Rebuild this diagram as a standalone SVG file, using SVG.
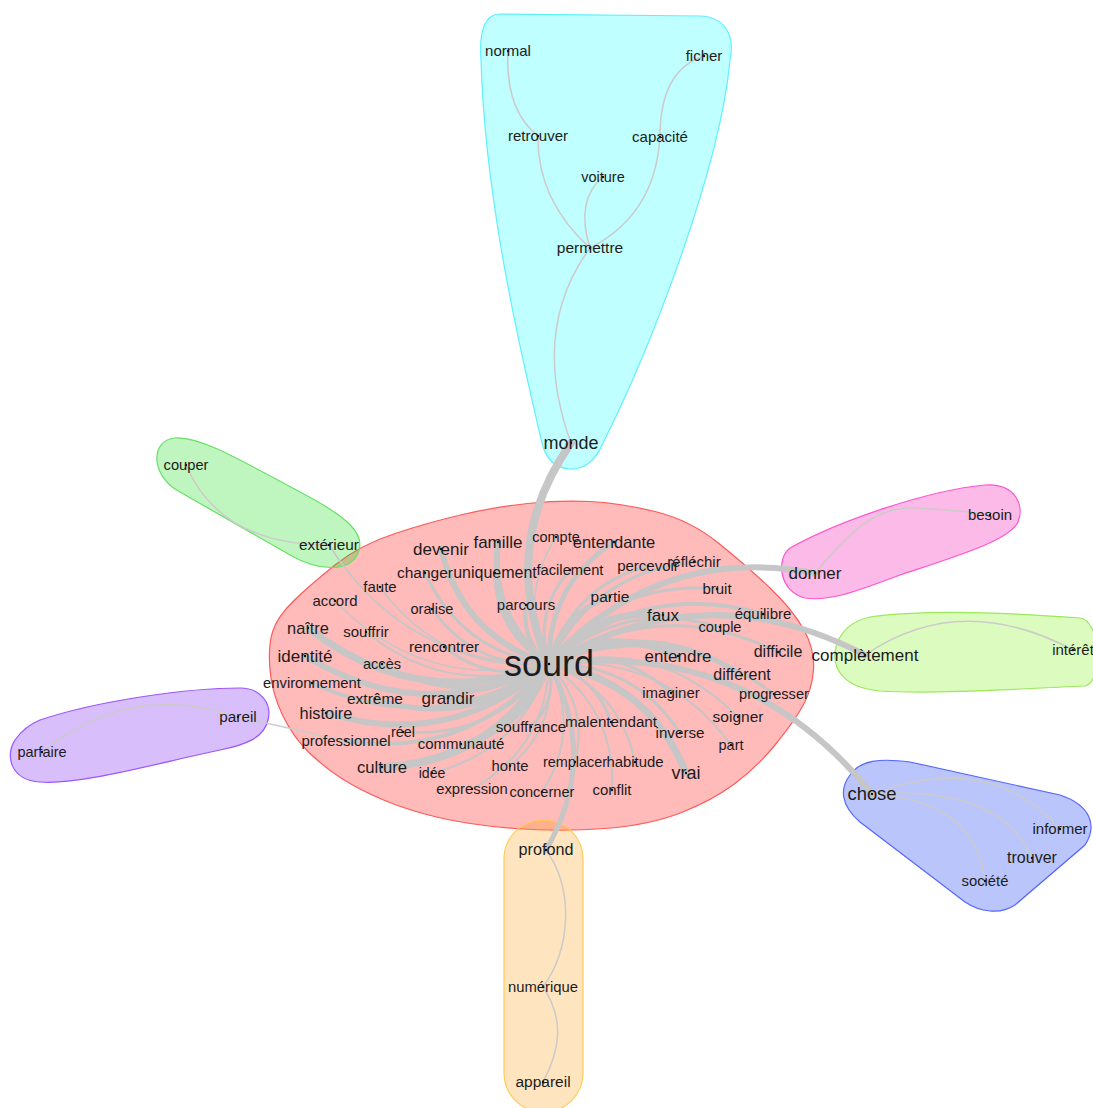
<svg xmlns="http://www.w3.org/2000/svg" width="1093" height="1108" viewBox="0 0 1093 1108">
<style>
.h{stroke-width:1.2}
.e{fill:none;stroke:#c6c6c6;stroke-linecap:round}
.c{fill:none;stroke:#cdcaca;stroke-width:1.5;stroke-linecap:round}
text{font-family:"Liberation Sans",Arial,sans-serif;fill:#1c1c1c;text-anchor:middle}
circle{fill:#111}
</style>
<rect width="1093" height="1108" fill="#ffffff"/>
<g id="hulls">
<path id="hull-monde" class="h" fill="rgba(0,255,255,0.25)" stroke="#5ef0ff" d="M500,14 L700,16 C725,17 735,35 730,60 C720,170 650,350 602,445 C595,462 582,470 570,469 C556,468 546,460 542,443 C520,350 485,200 481,60 C479,30 485,14 500,14 Z"/>
<path id="hull-sourd" class="h" fill="rgba(255,0,0,0.27)" stroke="#ff5a5a" d="M335,565 Q360,545 395,533.5 Q430,522 462.5,514.5 Q495,507 527.5,503.5 Q560,500 590,501.5 Q620,503 655,511.5 Q690,520 719,543.5 Q748,567 770.5,588.5 Q793,610 804,630 Q815,650 813.5,670 Q812,690 802.5,706.5 Q793,723 775,745 Q757,767 735,783.5 Q713,800 681.5,812.5 Q650,825 605,828.5 Q560,832 515,828.5 Q470,825 438.5,817.5 Q407,810 383.5,800 Q360,790 342.5,779 Q325,768 309,752.5 Q293,737 282.5,715 Q272,693 270,670 Q268,647 272.5,632 Q277,617 293.5,601 Q310,585 335,565 Z"/>
<path id="hull-exterieur" class="h" fill="rgba(0,220,0,0.25)" stroke="#66e066" d="M175,438 C200,436 240,460 300,492 C350,518 366,535 358,553 C350,572 320,572 290,555 L180,492 C150,476 150,440 175,438 Z"/>
<path id="hull-donner" class="h" fill="rgba(240,0,170,0.27)" stroke="#ff55cc" d="M790,548 C840,520 930,490 985,485 C1015,483 1025,505 1018,522 C1010,540 960,555 900,575 C860,590 830,602 805,598 C780,592 775,560 790,548 Z"/>
<path id="hull-completement" class="h" fill="rgba(110,240,0,0.25)" stroke="#9be85a" d="M870,617 C920,610 1000,612 1080,618 C1100,620 1105,680 1085,686 C1000,690 930,694 880,691 C845,688 833,670 835,652 C838,630 855,620 870,617 Z"/>
<path id="hull-pareil" class="h" fill="rgba(100,0,240,0.25)" stroke="#9a55ff" d="M40,720 C100,700 190,688 240,688 C262,688 272,705 268,720 C264,738 245,745 220,750 C150,765 80,785 40,782 C10,780 5,755 15,740 C22,730 30,724 40,720 Z"/>
<rect id="hull-profond" class="h" x="504" y="820" width="79" height="292" rx="39" fill="rgba(255,153,0,0.25)" stroke="#ffcc55"/>
<path id="hull-chose" class="h" fill="rgba(0,40,240,0.27)" stroke="#5566ff" d="M850,775 C860,760 880,758 910,762 L1060,795 C1090,805 1098,825 1085,845 L1015,905 C1000,915 980,912 965,902 L860,822 C840,805 840,788 850,775 Z"/>
</g>
<g id="connectors">
<path class="e" stroke-width="8" d="M549,664 Q498,547 571,443"/>
<path class="e" stroke-width="6" d="M549,664 Q489,617 498,542"/>
<path class="e" stroke-width="6" d="M549,664 Q463,637 441,549"/>
<path class="e" stroke-width="1.5" d="M549,664 Q517,599 556,537"/>
<path class="e" stroke-width="5" d="M549,664 Q548,585 614,542"/>
<path class="e" stroke-width="3" d="M549,664 Q462,653 425,573"/>
<path class="e" stroke-width="4" d="M549,664 Q497,634 495,573"/>
<path class="e" stroke-width="3" d="M549,664 Q533,611 570,570"/>
<path class="e" stroke-width="3" d="M549,664 Q571,587 648,566"/>
<path class="e" stroke-width="3" d="M549,664 Q593,572 694,562"/>
<path class="e" stroke-width="6" d="M549,664 Q656.5,544 815,573"/>
<path class="e" stroke-width="1.5" d="M549,664 Q443,673 380,587"/>
<path class="e" stroke-width="1.5" d="M549,664 Q406,666 329,545"/>
<path class="e" stroke-width="1.5" d="M549,664 Q424,692 335,601"/>
<path class="e" stroke-width="3" d="M549,664 Q475,669 432,609"/>
<path class="e" stroke-width="4" d="M549,664 Q521,641 526,605"/>
<path class="e" stroke-width="5" d="M549,664 Q561,613 610,597"/>
<path class="e" stroke-width="3" d="M549,664 Q612,579.5 717,589"/>
<path class="e" stroke-width="7" d="M549,664 Q592,608 663,615"/>
<path class="e" stroke-width="4" d="M549,664 Q642,579 763,614"/>
<path class="e" stroke-width="6" d="M549,664 Q704.5,571 865,655"/>
<path class="e" stroke-width="3" d="M549,664 Q624,598 720,627"/>
<path class="e" stroke-width="3" d="M549,664 Q660,594 778,652"/>
<path class="e" stroke-width="7" d="M549,664 Q418,713.5 308,628"/>
<path class="e" stroke-width="2" d="M549,664 Q448.5,699 366,632"/>
<path class="e" stroke-width="3" d="M549,664 Q492,685 444,647"/>
<path class="e" stroke-width="6" d="M549,664 Q425,728 305,656"/>
<path class="e" stroke-width="4" d="M549,664 Q465.5,711 382,664"/>
<path class="e" stroke-width="7" d="M549,664 Q611,624 678,656"/>
<path class="e" stroke-width="4" d="M549,664 Q436,740 312,683"/>
<path class="e" stroke-width="5" d="M549,664 Q472,730 375,699"/>
<path class="e" stroke-width="5" d="M549,664 Q508,709 448,698"/>
<path class="e" stroke-width="5" d="M549,664 Q649,615 742,675"/>
<path class="e" stroke-width="6" d="M549,664 Q747,639 872,794"/>
<path class="e" stroke-width="3" d="M549,664 Q670,616 774,694"/>
<path class="e" stroke-width="3" d="M549,664 Q618,644 671,693"/>
<path class="e" stroke-width="6" d="M549,664 Q451,751 326,713"/>
<path class="e" stroke-width="2" d="M549,664 Q658.5,637 738,717"/>
<path class="e" stroke-width="3" d="M549,664 Q557.6,700.5 531,727"/>
<path class="e" stroke-width="3" d="M549,664 Q596,676 611,722"/>
<path class="e" stroke-width="3" d="M549,664 Q495,739 403,732"/>
<path class="e" stroke-width="3" d="M549,664 Q633.5,662 680,733"/>
<path class="e" stroke-width="4" d="M549,664 Q469,759 346,741"/>
<path class="e" stroke-width="5" d="M549,664 Q527.6,728.5 461,744"/>
<path class="e" stroke-width="2" d="M549,664 Q663,653 731,745"/>
<path class="e" stroke-width="8" d="M549,664 Q494,762 382,767"/>
<path class="e" stroke-width="2" d="M549,664 Q558,726 510,766"/>
<path class="e" stroke-width="2" d="M549,664 Q589.4,705.7 575,762"/>
<path class="e" stroke-width="2" d="M549,664 Q619.7,688.8 635,762"/>
<path class="e" stroke-width="7" d="M549,664 Q648,680 686,773"/>
<path class="e" stroke-width="2" d="M549,664 Q521,751 432,773"/>
<path class="e" stroke-width="2" d="M549,664 Q546,748 472,789"/>
<path class="e" stroke-width="2" d="M549,664 Q581.6,730 542,792"/>
<path class="e" stroke-width="2" d="M549,664 Q616,709 612,790"/>
<path class="e" stroke-width="5" d="M549,664 Q599.6,758 546,850"/>
<path class="c" stroke-width="2.5" d="M571,443 Q530,330 590,248"/>
<path class="c" d="M590,248 Q537,200 538,136"/>
<path class="c" d="M538,136 Q505,110 508,51"/>
<path class="c" d="M590,248 Q575,200 603,177"/>
<path class="c" d="M590,248 Q655,215 660,137"/>
<path class="c" d="M660,137 Q660,70 704,56"/>
<path class="c" d="M186,465 Q220,545 329,545"/>
<path class="c" d="M815,573 C855,525 880,505 920,508 S975,512 990,515"/>
<path class="c" d="M865,655 Q960,590 1073,650"/>
<path class="c" d="M238,717 Q130,680 42,752"/>
<path class="c" d="M238,717 Q290,728 346,741"/>
<path class="c" d="M872,794 Q990,750 1060,829"/>
<path class="c" stroke-width="2.5" d="M872,794 Q1000,785 1032,858"/>
<path class="c" d="M872,794 Q975,800 985,881"/>
<path class="c" stroke="#bcc4d2" d="M546,850 C575,890 570,950 543,987 C565,1020 560,1050 543,1082"/>
</g>
<g id="n-sourd"><circle cx="549" cy="664" r="1.3"/><text x="549" y="676" font-size="36">sourd</text></g>
<g id="n-monde"><circle cx="571" cy="443" r="1.2"/><text x="571" y="449" font-size="18">monde</text></g>
<g id="n-normal"><circle cx="508" cy="51" r="1.2"/><text x="508" y="56" font-size="15">normal</text></g>
<g id="n-ficher"><circle cx="704" cy="56" r="1.2"/><text x="704" y="61" font-size="15">ficher</text></g>
<g id="n-retrouver"><circle cx="538" cy="136" r="1.2"/><text x="538" y="141" font-size="15">retrouver</text></g>
<g id="n-capacite"><circle cx="660" cy="137" r="1.2"/><text x="660" y="142" font-size="15">capacité</text></g>
<g id="n-voiture"><circle cx="603" cy="177" r="1.2"/><text x="603" y="182" font-size="14.5">voiture</text></g>
<g id="n-permettre"><circle cx="590" cy="248" r="1.2"/><text x="590" y="253" font-size="15.5">permettre</text></g>
<g id="n-famille"><circle cx="498" cy="542" r="1.2"/><text x="498" y="548" font-size="17">famille</text></g>
<g id="n-compte"><circle cx="556" cy="537" r="1.2"/><text x="556" y="542" font-size="14.5">compte</text></g>
<g id="n-entendante"><circle cx="614" cy="542" r="1.2"/><text x="614" y="548" font-size="16.5">entendante</text></g>
<g id="n-devenir"><circle cx="441" cy="549" r="1.2"/><text x="441" y="555" font-size="17">devenir</text></g>
<g id="n-changer"><circle cx="425" cy="573" r="1.2"/><text x="425" y="578" font-size="15.5">changer</text></g>
<g id="n-uniquement"><circle cx="495" cy="573" r="1.2"/><text x="495" y="578" font-size="16">uniquement</text></g>
<g id="n-facilement"><circle cx="570" cy="570" r="1.2"/><text x="570" y="575" font-size="14.7">facilement</text></g>
<g id="n-percevoir"><circle cx="648" cy="566" r="1.2"/><text x="648" y="571" font-size="15">percevoir</text></g>
<g id="n-reflechir"><circle cx="694" cy="562" r="1.2"/><text x="694" y="567" font-size="15">réfléchir</text></g>
<g id="n-faute"><circle cx="380" cy="587" r="1.2"/><text x="380" y="592" font-size="15">faute</text></g>
<g id="n-bruit"><circle cx="717" cy="589" r="1.2"/><text x="717" y="594" font-size="15">bruit</text></g>
<g id="n-accord"><circle cx="335" cy="601" r="1.2"/><text x="335" y="606" font-size="15">accord</text></g>
<g id="n-oralise"><circle cx="432" cy="609" r="1.2"/><text x="432" y="614" font-size="14.6">oralise</text></g>
<g id="n-parcours"><circle cx="526" cy="605" r="1.2"/><text x="526" y="610" font-size="15">parcours</text></g>
<g id="n-partie"><circle cx="610" cy="597" r="1.2"/><text x="610" y="602" font-size="15.5">partie</text></g>
<g id="n-faux"><circle cx="663" cy="615" r="1.2"/><text x="663" y="621" font-size="17">faux</text></g>
<g id="n-equilibre"><circle cx="763" cy="614" r="1.2"/><text x="763" y="619" font-size="15">équilibre</text></g>
<g id="n-couple"><circle cx="720" cy="627" r="1.2"/><text x="720" y="632" font-size="14.6">couple</text></g>
<g id="n-naitre"><circle cx="308" cy="628" r="1.2"/><text x="308" y="634" font-size="16.4">naître</text></g>
<g id="n-souffrir"><circle cx="366" cy="632" r="1.2"/><text x="366" y="637" font-size="15">souffrir</text></g>
<g id="n-rencontrer"><circle cx="444" cy="647" r="1.2"/><text x="444" y="652" font-size="15.4">rencontrer</text></g>
<g id="n-identite"><circle cx="305" cy="656" r="1.2"/><text x="305" y="662" font-size="17">identité</text></g>
<g id="n-entendre"><circle cx="678" cy="656" r="1.2"/><text x="678" y="662" font-size="17">entendre</text></g>
<g id="n-difficile"><circle cx="778" cy="652" r="1.2"/><text x="778" y="657" font-size="16">difficile</text></g>
<g id="n-completement"><circle cx="865" cy="655" r="1.2"/><text x="865" y="661" font-size="17">complètement</text></g>
<g id="n-acces"><circle cx="382" cy="664" r="1.2"/><text x="382" y="669" font-size="14.6">accès</text></g>
<g id="n-environnement"><circle cx="312" cy="683" r="1.2"/><text x="312" y="688" font-size="14.8">environnement</text></g>
<g id="n-extreme"><circle cx="375" cy="699" r="1.2"/><text x="375" y="704" font-size="15.5">extrême</text></g>
<g id="n-grandir"><circle cx="448" cy="698" r="1.2"/><text x="448" y="704" font-size="17">grandir</text></g>
<g id="n-imaginer"><circle cx="671" cy="693" r="1.2"/><text x="671" y="698" font-size="15">imaginer</text></g>
<g id="n-different"><circle cx="742" cy="675" r="1.2"/><text x="742" y="680" font-size="16">différent</text></g>
<g id="n-progresser"><circle cx="774" cy="694" r="1.2"/><text x="774" y="699" font-size="14.6">progresser</text></g>
<g id="n-histoire"><circle cx="326" cy="713" r="1.2"/><text x="326" y="719" font-size="16.4">histoire</text></g>
<g id="n-soigner"><circle cx="738" cy="717" r="1.2"/><text x="738" y="722" font-size="15.5">soigner</text></g>
<g id="n-souffrance"><circle cx="531" cy="727" r="1.2"/><text x="531" y="732" font-size="15.2">souffrance</text></g>
<g id="n-malentendant"><circle cx="611" cy="722" r="1.2"/><text x="611" y="727" font-size="15.2">malentendant</text></g>
<g id="n-reel"><circle cx="403" cy="732" r="1.2"/><text x="403" y="737" font-size="14.4">réel</text></g>
<g id="n-inverse"><circle cx="680" cy="733" r="1.2"/><text x="680" y="738" font-size="15.2">inverse</text></g>
<g id="n-professionnel"><circle cx="346" cy="741" r="1.2"/><text x="346" y="746" font-size="15">professionnel</text></g>
<g id="n-communaute"><circle cx="461" cy="744" r="1.2"/><text x="461" y="749" font-size="15">communauté</text></g>
<g id="n-part"><circle cx="731" cy="745" r="1.2"/><text x="731" y="750" font-size="14.5">part</text></g>
<g id="n-culture"><circle cx="382" cy="767" r="1.2"/><text x="382" y="773" font-size="16.7">culture</text></g>
<g id="n-honte"><circle cx="510" cy="766" r="1.2"/><text x="510" y="771" font-size="14.8">honte</text></g>
<g id="n-remplacer"><circle cx="575" cy="762" r="1.2"/><text x="575" y="767" font-size="14.4">remplacer</text></g>
<g id="n-habitude"><circle cx="635" cy="762" r="1.2"/><text x="635" y="767" font-size="14.9">habitude</text></g>
<g id="n-vrai"><circle cx="686" cy="773" r="1.2"/><text x="686" y="779" font-size="18">vrai</text></g>
<g id="n-idee"><circle cx="432" cy="773" r="1.2"/><text x="432" y="778" font-size="14.1">idée</text></g>
<g id="n-expression"><circle cx="472" cy="789" r="1.2"/><text x="472" y="794" font-size="14.8">expression</text></g>
<g id="n-concerner"><circle cx="542" cy="792" r="1.2"/><text x="542" y="797" font-size="14.6">concerner</text></g>
<g id="n-conflit"><circle cx="612" cy="790" r="1.2"/><text x="612" y="795" font-size="14.9">conflit</text></g>
<g id="n-donner"><circle cx="815" cy="573" r="1.2"/><text x="815" y="579" font-size="17">donner</text></g>
<g id="n-besoin"><circle cx="990" cy="515" r="1.2"/><text x="990" y="520" font-size="15">besoin</text></g>
<g id="n-interet"><circle cx="1073" cy="650" r="1.2"/><text x="1073" y="655" font-size="15">intérêt</text></g>
<g id="n-couper"><circle cx="186" cy="465" r="1.2"/><text x="186" y="470" font-size="14.7">couper</text></g>
<g id="n-exterieur"><circle cx="329" cy="545" r="1.2"/><text x="329" y="550" font-size="15.4">extérieur</text></g>
<g id="n-pareil"><circle cx="238" cy="717" r="1.2"/><text x="238" y="722" font-size="15.3">pareil</text></g>
<g id="n-parfaire"><circle cx="42" cy="752" r="1.2"/><text x="42" y="757" font-size="14.5">parfaire</text></g>
<g id="n-profond"><circle cx="546" cy="850" r="1.2"/><text x="546" y="855" font-size="16.2">profond</text></g>
<g id="n-numerique"><circle cx="543" cy="987" r="1.2"/><text x="543" y="992" font-size="14.8">numérique</text></g>
<g id="n-appareil"><circle cx="543" cy="1082" r="1.2"/><text x="543" y="1087" font-size="15.5">appareil</text></g>
<g id="n-chose"><circle cx="872" cy="794" r="1.2"/><text x="872" y="800" font-size="18.4">chose</text></g>
<g id="n-informer"><circle cx="1060" cy="829" r="1.2"/><text x="1060" y="834" font-size="15">informer</text></g>
<g id="n-trouver"><circle cx="1032" cy="858" r="1.2"/><text x="1032" y="863" font-size="16">trouver</text></g>
<g id="n-societe"><circle cx="985" cy="881" r="1.2"/><text x="985" y="886" font-size="14.8">société</text></g>
</svg>
